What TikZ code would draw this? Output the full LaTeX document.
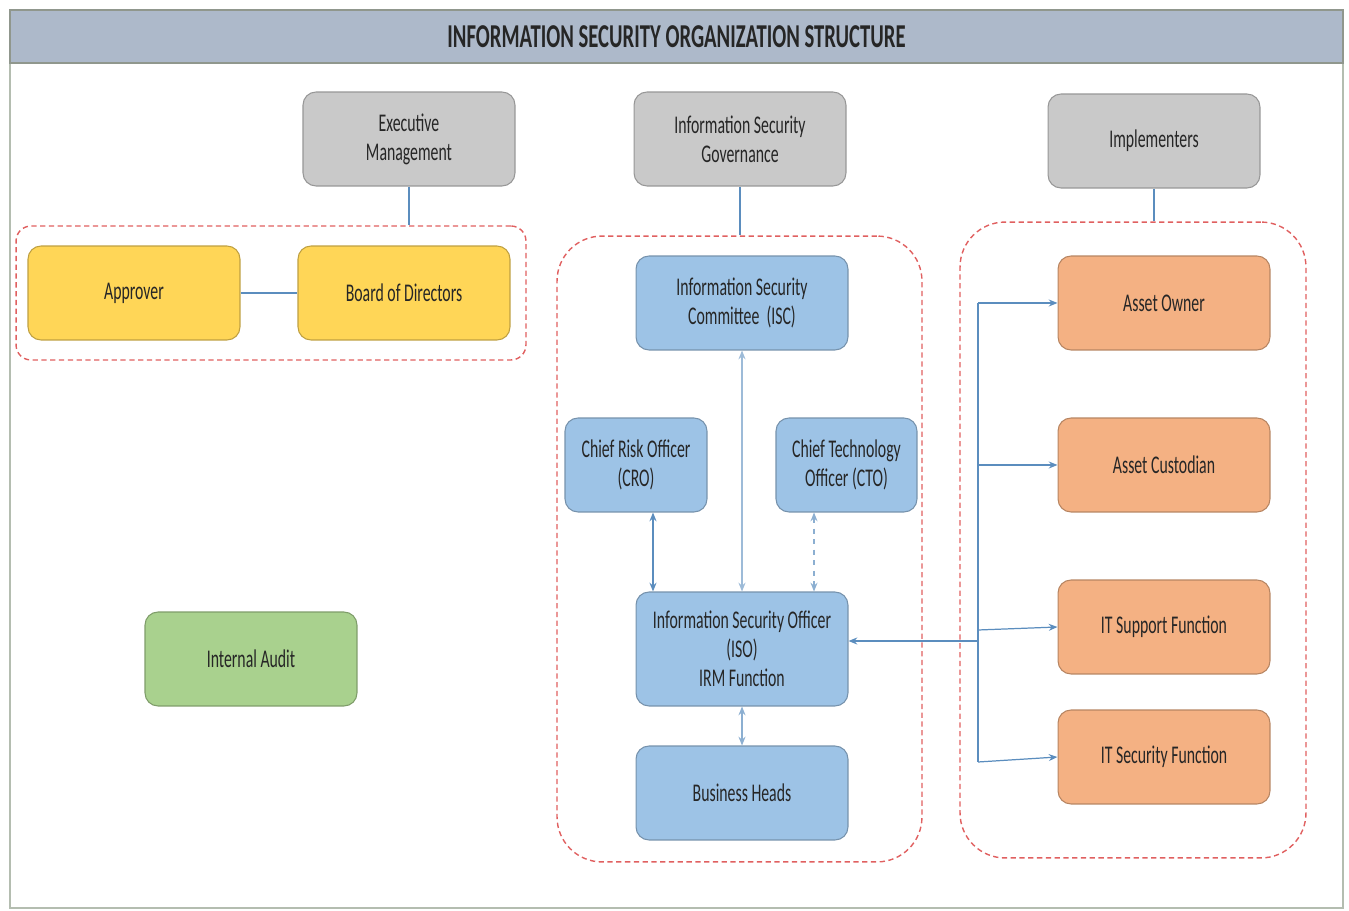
\documentclass[tikz,border=0pt]{standalone}
\usepackage{fontspec}
\setmainfont[FakeStretch=0.62]{Carlito}
\usetikzlibrary{arrows.meta,calc}

\definecolor{titlefill}{HTML}{ADB9CA}
\definecolor{headfill}{HTML}{C9C9C9}
\definecolor{yellowfill}{HTML}{FFD657}
\definecolor{bluefill}{HTML}{9DC3E6}
\definecolor{orangefill}{HTML}{F4B183}
\definecolor{greenfill}{HTML}{A9D18E}
\definecolor{grpred}{HTML}{E06060}
\definecolor{linkblue}{HTML}{5B8DBE}
\definecolor{textgray}{HTML}{262626}
\definecolor{framegray}{HTML}{B4BDB0}

\newcommand{\boxfont}{\fontsize{14.5}{16.5}\selectfont}
\newcommand{\headfont}{\fontsize{19}{22}\selectfont\bfseries}

\tikzset{
  box/.style={rectangle, rounded corners=0.26cm, minimum width=4.24cm, minimum height=1.88cm,
    align=center, text=textgray, font=\boxfont, fill=#1, draw=#1!75!black, line width=0.6pt},
  grp/.style={rectangle, draw=grpred, dash pattern=on 3pt off 2pt, line width=0.8pt},
  link/.style={draw=linkblue, line width=0.7pt},
  tip/.style={-{Stealth[length=5pt,width=4pt]}},
  bitip/.style={{Stealth[length=5pt,width=4pt]}-{Stealth[length=5pt,width=4pt]}},
}

\begin{document}
\begin{tikzpicture}[x=0.02cm, y=-0.02cm]
			%%%%% FRAME %%%%%
			\useasboundingbox (0, 0) rectangle (1349, 911);
			\draw[framegray, line width=0.6pt] (10, 10) rectangle (1343, 908);
			\node[rectangle, fill=titlefill, draw=framegray!80!black, line width=0.8pt,
			  minimum width=26.66cm, minimum height=1.06cm, text=textgray, font=\headfont]
			  (title) at (676.5, 36.5) {INFORMATION SECURITY ORGANIZATION STRUCTURE};
			
			%%%%% GROUPS %%%%%
			\node[grp, rounded corners=0.3cm, minimum width=10.2cm, minimum height=2.68cm] (grpExec) at (271, 293) {};
			\node[grp, rounded corners=0.9cm, minimum width=7.3cm, minimum height=12.52cm] (grpGov) at (739.5, 549) {};
			\node[grp, rounded corners=0.9cm, minimum width=6.92cm, minimum height=12.72cm] (grpImpl) at (1133, 540) {};
			
			%%%%% HEADS %%%%%
			\node[box=headfill] (exec) at (409, 139) {Executive\\Management};
			\node[box=headfill] (gov) at (740, 139) {Information Security\\Governance};
			\node[box=headfill] (impl) at (1154, 141) {Implementers};
			
			\draw[link] (exec.south) -- (exec.south |- grpExec.north);
			\draw[link] (gov.south) -- (gov.south |- grpGov.north);
			\draw[link] (impl.south) -- (impl.south |- grpImpl.north);
			
			%%%%% EXECUTIVE %%%%%
			\node[box=yellowfill] (appr) at (134, 293) {Approver};
			\node[box=yellowfill] (board) at (404, 293) {Board of Directors};
			\draw[link] (appr.east) -- (board.west);
			
			\node[box=greenfill] (audit) at (251, 659) {Internal Audit};
			
			%%%%% GOVERNANCE %%%%%
			\node[box=bluefill] (isc) at (742, 303) {Information Security\\Committee\ \ (ISC)};
			\node[box=bluefill, minimum width=2.84cm] (cro) at (636, 465) {Chief Risk Officer\\(CRO)};
			\node[box=bluefill, minimum width=2.82cm] (cto) at (846.5, 465) {Chief Technology\\Officer (CTO)};
			\node[box=bluefill, minimum height=2.28cm] (iso) at (742, 649) {Information Security Officer\\(ISO)\\IRM Function};
			\node[box=bluefill] (bh) at (742, 793) {Business Heads};
			
			\draw[link, bitip, draw=linkblue!60] (isc.south) -- (iso.north);
			\draw[link, bitip] ([xshift=0.34cm]cro.south) -- ([xshift=0.34cm]cro.south |- iso.north);
			\draw[link, bitip, dashed, draw=linkblue!70] ([xshift=-0.65cm]cto.south) -- ([xshift=-0.65cm]cto.south |- iso.north);
			\draw[link, bitip, draw=linkblue!70] (iso.south) -- (bh.north);
			
			%%%%% IMPLEMENTERS %%%%%
			\node[box=orangefill] (owner) at (1164, 303) {Asset Owner};
			\node[box=orangefill] (cust) at (1164, 465) {Asset Custodian};
			\node[box=orangefill] (itsup) at (1164, 627) {IT Support Function};
			\node[box=orangefill] (itsec) at (1164, 757) {IT Security Function};
			
			\coordinate (trunkTop) at (978, 303);
			\coordinate (trunkCust) at (978, 465);
			\coordinate (trunkSup) at (978, 630);
			\coordinate (trunkIso) at (978, 641);
			\coordinate (trunkBot) at (978, 762);
			
			\draw[link] (trunkTop) -- (trunkBot);
			\draw[link, tip] (trunkTop) -- (owner.west);
			\draw[link, tip] (trunkCust) -- (cust.west);
			\draw[link, tip] (trunkSup) -- (itsup.west);
			\draw[link, tip] (trunkBot) -- (itsec.west);
			\draw[link, tip] (trunkIso) -- (trunkIso -| iso.east);
			%%%%% END %%%%%
		\end{tikzpicture}
\end{document}
